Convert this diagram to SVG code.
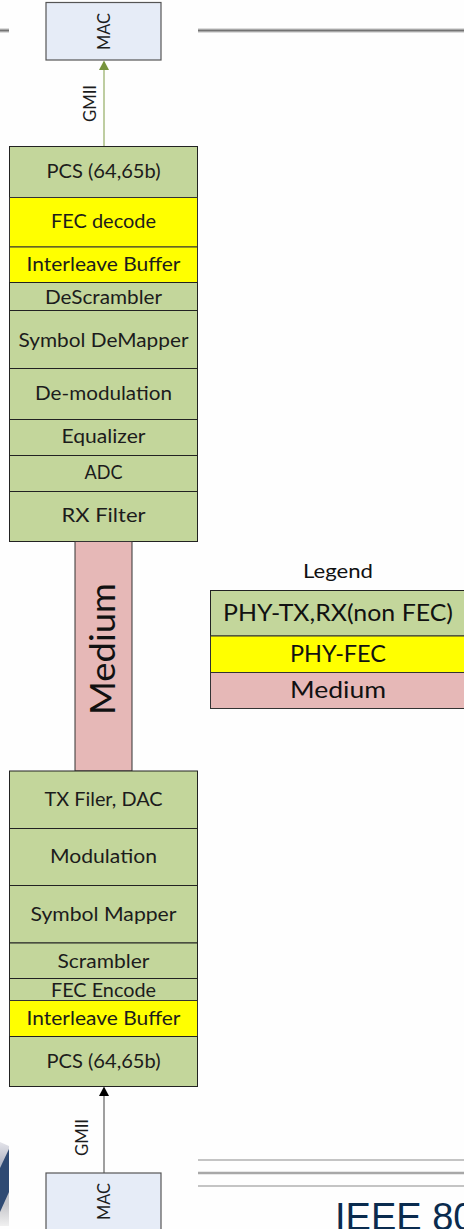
<svg xmlns="http://www.w3.org/2000/svg" width="464" height="1229" viewBox="0 0 464 1229">
<style>
text{font-family:Lato,"Open Sans","Liberation Sans",sans-serif;fill:#1c1c1c;text-anchor:middle;font-size:18.5px}
.g{fill:#c3d69b;stroke:#222;stroke-width:1}
.y{fill:#ffff00;stroke:#333;stroke-width:1}
.r{fill:#e6b8b7;stroke:#333;stroke-width:1}
.m{fill:#e6ecf7;stroke:#555;stroke-width:1.2}
.l{font-size:24px;fill:#111}
.v{font-size:18px}
</style>
<defs>
<linearGradient id="blob" x1="0" y1="0" x2="0" y2="1"><stop offset="0" stop-color="#e4e4ea"/><stop offset="0.25" stop-color="#b4b8c6"/><stop offset="0.75" stop-color="#c8c8cc"/><stop offset="1" stop-color="#f0f0f0"/></linearGradient>
</defs>
<rect width="464" height="1229" fill="#fefefe"/>
<g id="background">
<path d="M0 30.500H9M198 30.500H464" stroke="#dcdcdc" stroke-width="5" fill="none"/>
<path d="M0 30.500H9M198 30.500H464" stroke="#737373" stroke-width="2" fill="none"/>
<path d="M198 1160H464M198 1186H464" stroke="#c4c4c4" stroke-width="2.200" fill="none"/>
<path d="M198 1173H464" stroke="#a8a8a8" stroke-width="2.400" fill="none"/>
<path d="M0 1142L9 1146V1226H0Z" fill="url(#blob)"/>
<path d="M9 1149V1192L0 1212V1168Z" fill="#2f4a73"/>
<text x="335" y="1230" style="font-family:'Liberation Sans',sans-serif;font-size:38px;fill:#0a2b4e;text-anchor:start">IEEE 80</text>
</g>
<g id="connectors">
<path d="M104 146V68" stroke="#a9bd82" stroke-width="1.500" fill="none"/>
<path d="M99 70L104 60.500L109 70Z" fill="#76933c"/>
<path d="M104 1173V1094" stroke="#7f7f7f" stroke-width="1.500" fill="none"/>
<path d="M99 1096L104 1086.500L109 1096Z" fill="#000"/>
<text class="v" transform="translate(95.500 103.500) rotate(-90)" textLength="37" lengthAdjust="spacingAndGlyphs">GMII</text>
<text class="v" transform="translate(88 1137.500) rotate(-90)" textLength="37" lengthAdjust="spacingAndGlyphs">GMII</text>
</g>
<g id="mac-top"><rect class="m" x="46" y="2.500" width="115" height="57.500"/><text class="v" transform="translate(110 31.500) rotate(-90)" textLength="37" lengthAdjust="spacingAndGlyphs">MAC</text></g>
<g id="rx-pcs"><rect class="g" x="9.500" y="146.500" width="188" height="51"/><text x="103.500" y="178" textLength="114" lengthAdjust="spacingAndGlyphs">PCS (64,65b)</text></g>
<g id="rx-fec"><rect class="y" x="9.500" y="197.500" width="188" height="49.500"/><text x="103.500" y="228" textLength="105" lengthAdjust="spacingAndGlyphs">FEC decode</text></g>
<g id="rx-interleave"><rect class="y" x="9.500" y="247" width="188" height="35.500"/><text x="103.500" y="271" textLength="154" lengthAdjust="spacingAndGlyphs">Interleave Buffer</text></g>
<g id="rx-descrambler"><rect class="g" x="9.500" y="282.500" width="188" height="28"/><text x="103.500" y="303.500" textLength="117" lengthAdjust="spacingAndGlyphs">DeScrambler</text></g>
<g id="rx-demapper"><rect class="g" x="9.500" y="310.500" width="188" height="58"/><text x="103.500" y="346.500" textLength="170" lengthAdjust="spacingAndGlyphs">Symbol DeMapper</text></g>
<g id="rx-demod"><rect class="g" x="9.500" y="368.500" width="188" height="51"/><text x="103.500" y="400" textLength="137" lengthAdjust="spacingAndGlyphs">De-modulation</text></g>
<g id="rx-eq"><rect class="g" x="9.500" y="419.500" width="188" height="36"/><text x="103.500" y="443" textLength="84" lengthAdjust="spacingAndGlyphs">Equalizer</text></g>
<g id="rx-adc"><rect class="g" x="9.500" y="455.500" width="188" height="36"/><text x="103.500" y="479" textLength="38" lengthAdjust="spacingAndGlyphs">ADC</text></g>
<g id="rx-filter"><rect class="g" x="9.500" y="491.500" width="188" height="50"/><text x="103.500" y="522" textLength="84" lengthAdjust="spacingAndGlyphs">RX Filter</text></g>
<g id="medium"><rect class="r" x="75" y="541.500" width="57" height="229.500"/><text transform="translate(115 649) rotate(-90)" style="font-size:35px;fill:#111" textLength="132" lengthAdjust="spacingAndGlyphs">Medium</text></g>
<g id="tx-filter"><rect class="g" x="9.500" y="771" width="188" height="57.500"/><text x="103.500" y="806" textLength="118" lengthAdjust="spacingAndGlyphs">TX Filer, DAC</text></g>
<g id="tx-mod"><rect class="g" x="9.500" y="828.500" width="188" height="57"/><text x="103.500" y="863" textLength="107" lengthAdjust="spacingAndGlyphs">Modulation</text></g>
<g id="tx-mapper"><rect class="g" x="9.500" y="885.500" width="188" height="57.500"/><text x="103.500" y="921" textLength="146" lengthAdjust="spacingAndGlyphs">Symbol Mapper</text></g>
<g id="tx-scrambler"><rect class="g" x="9.500" y="943" width="188" height="35.500"/><text x="103.500" y="967.500" textLength="92" lengthAdjust="spacingAndGlyphs">Scrambler</text></g>
<g id="tx-fec"><rect class="g" x="9.500" y="978.500" width="188" height="22"/><text x="103.500" y="996.500" textLength="105" lengthAdjust="spacingAndGlyphs">FEC Encode</text></g>
<g id="tx-interleave"><rect class="y" x="9.500" y="1000.500" width="188" height="36"/><text x="103.500" y="1025" textLength="154" lengthAdjust="spacingAndGlyphs">Interleave Buffer</text></g>
<g id="tx-pcs"><rect class="g" x="9.500" y="1036.500" width="188" height="50"/><text x="103.500" y="1068" textLength="114" lengthAdjust="spacingAndGlyphs">PCS (64,65b)</text></g>
<g id="mac-bottom"><rect class="m" x="46" y="1173" width="115" height="60"/><text class="v" transform="translate(110 1201.500) rotate(-90)" textLength="37" lengthAdjust="spacingAndGlyphs">MAC</text></g>
<g id="legend">
<text x="338" y="578" style="font-size:20px;fill:#111" textLength="70" lengthAdjust="spacingAndGlyphs">Legend</text>
<rect class="g" x="210.500" y="590.500" width="254" height="45.500"/><text class="l" x="338" y="621" textLength="230" lengthAdjust="spacingAndGlyphs">PHY-TX,RX(non FEC)</text>
<rect class="y" x="210.500" y="636" width="254" height="36.500"/><text class="l" x="338" y="662" textLength="96" lengthAdjust="spacingAndGlyphs">PHY-FEC</text>
<rect class="r" x="210.500" y="672.500" width="254" height="36"/><text class="l" x="338" y="698" textLength="96" lengthAdjust="spacingAndGlyphs">Medium</text>
</g>
</svg>
